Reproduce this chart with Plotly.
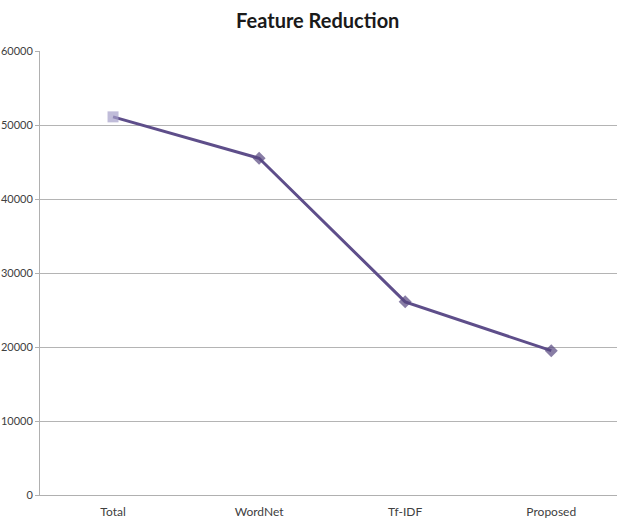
import plotly.graph_objects as go

# Feature counts after each reduction step
methods = ["Total", "WordNet", "Tf-IDF", "Proposed"]
feature_counts = [51100, 45500, 26100, 19500]
y_ticks = [0, 10000, 20000, 30000, 40000, 50000, 60000]

line_color = "#5e4e8a"
marker_colors = ["#a59fc9", "#56467f", "#56467f", "#56467f"]
marker_symbols = ["square", "diamond", "diamond", "diamond"]

fig = go.Figure()
fig.add_trace(go.Scatter(
    x=methods,
    y=feature_counts,
    mode="lines+markers",
    line=dict(color=line_color, width=3),
    marker=dict(color=marker_colors, symbol=marker_symbols, size=[11, 10, 10, 10],
                line=dict(width=0)),
    showlegend=False,
))

fig.update_layout(
    width=617,
    height=519,
    margin=dict(l=40, r=0, t=51, b=21),
    paper_bgcolor="white",
    plot_bgcolor="white",
    title=dict(
        text="<b>Feature Reduction</b>",
        xref="container", x=0.515, xanchor="center",
        yref="container", y=0.96, yanchor="middle",
        font=dict(family="Lato, Arial", size=20, color="#1a1a1a"),
    ),
    font=dict(family="Lato, Arial", size=11, color="#404040"),
)

fig.update_xaxes(
    type="category",
    range=[-0.5, 3.45],
    showgrid=False,
    showline=True,
    linecolor="#b0b0b0",
    linewidth=1,
    ticks="",
    ticklabelstandoff=6,
    tickfont=dict(size=12, color="#404040"),
)
fig.update_yaxes(
    range=[0, 60000],
    tickvals=y_ticks,
    ticktext=[str(v) for v in y_ticks],
    showgrid=True,
    gridcolor="#b4b4b4",
    gridwidth=1,
    showline=True,
    linecolor="#b0b0b0",
    linewidth=1,
    zeroline=False,
    ticks="outside",
    ticklen=4,
    tickcolor="#b0b0b0",
    tickfont=dict(size=11, color="#404040"),
)

fig.write_html("out.html")
